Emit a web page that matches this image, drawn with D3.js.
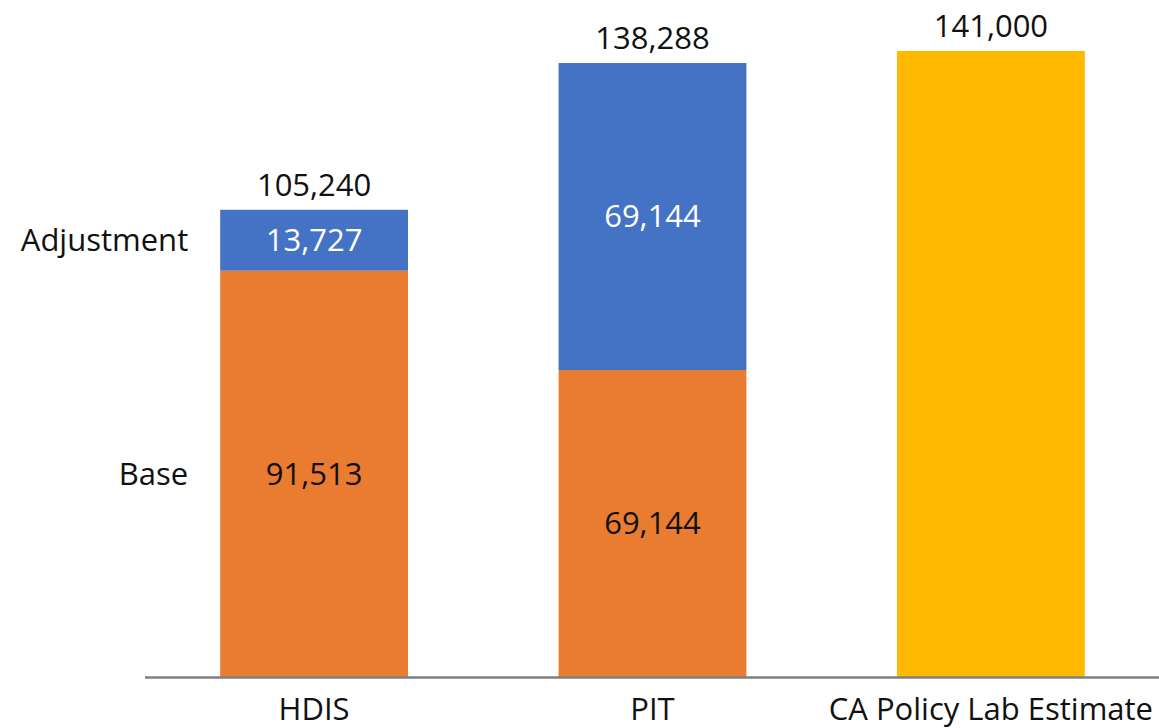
<!DOCTYPE html>
<html>
<head>
<meta charset="utf-8">
<script src="https://cdn.jsdelivr.net/npm/d3@7"></script>
<style>
  html, body { margin: 0; padding: 0; background: #fff; }
  svg text { font-family: "Open Sans", "Noto Sans", sans-serif; }
</style>
</head>
<body>
<svg id="chart" width="1159" height="728"></svg>
<script>
const categories = ["HDIS", "PIT", "CA Policy Lab Estimate"];
const baseValues = [91513, 69144, 0];
const adjustmentValues = [13727, 69144, 0];
const estimateValues = [0, 0, 141000];
const totalLabels = ["105,240", "138,288", "141,000"];
const seriesNames = ["Adjustment", "Base"];

const svg = d3.select("#chart");
const W = 1159, H = 728;

const x = d3.scaleBand().domain(categories).range([51, 1254]).paddingInner(0.445).paddingOuter(0.5);
const y = d3.scaleLinear().domain([0, 141000]).range([677, 51]);

const colors = { base: "#E97C30", adj: "#4472C4", est: "#FFBA00" };
const fmt = d3.format(",");

const rows = categories.map((c, i) => ({
  cat: c, base: baseValues[i], adj: adjustmentValues[i], est: estimateValues[i], total: totalLabels[i]
}));

// base segments
svg.append("g").selectAll("rect").data(rows.filter(d => d.base > 0)).join("rect")
  .attr("x", d => x(d.cat)).attr("width", x.bandwidth())
  .attr("y", d => y(d.base)).attr("height", d => y(0) - y(d.base))
  .attr("fill", colors.base);

// adjustment segments
svg.append("g").selectAll("rect").data(rows.filter(d => d.adj > 0)).join("rect")
  .attr("x", d => x(d.cat)).attr("width", x.bandwidth())
  .attr("y", d => y(d.base + d.adj)).attr("height", d => y(d.base) - y(d.base + d.adj))
  .attr("fill", colors.adj);

// estimate
svg.append("g").selectAll("rect").data(rows.filter(d => d.est > 0)).join("rect")
  .attr("x", d => x(d.cat)).attr("width", x.bandwidth())
  .attr("y", d => y(d.est)).attr("height", d => y(0) - y(d.est))
  .attr("fill", colors.est);

const fs = 31;
// inside labels
svg.append("g").selectAll("text").data(rows.filter(d => d.base > 0)).join("text")
  .attr("x", d => x(d.cat) + x.bandwidth() / 2)
  .attr("y", d => (y(0) + y(d.base)) / 2)
  .attr("dy", "0.35em").attr("text-anchor", "middle")
  .attr("font-size", fs).attr("fill", "#111")
  .text(d => fmt(d.base));

svg.append("g").selectAll("text").data(rows.filter(d => d.adj > 0)).join("text")
  .attr("x", d => x(d.cat) + x.bandwidth() / 2)
  .attr("y", d => (y(d.base) + y(d.base + d.adj)) / 2)
  .attr("dy", "0.35em").attr("text-anchor", "middle")
  .attr("font-size", fs).attr("fill", "#fff")
  .text(d => fmt(d.adj));

// total labels
svg.append("g").selectAll("text").data(rows).join("text")
  .attr("x", d => x(d.cat) + x.bandwidth() / 2)
  .attr("y", d => y(d.base + d.adj + d.est) - 14)
  .attr("text-anchor", "middle")
  .attr("font-size", fs).attr("fill", "#111")
  .text(d => d.total);

// series labels next to first bar
const first = rows[0];
const seriesY = [ (y(first.base) + y(first.base + first.adj)) / 2, (y(0) + y(first.base)) / 2 ];
svg.append("g").selectAll("text").data(seriesNames).join("text")
  .attr("x", x(first.cat) - 32)
  .attr("y", (d, i) => seriesY[i])
  .attr("dy", "0.35em").attr("text-anchor", "end")
  .attr("font-size", fs).attr("fill", "#111")
  .text(d => d);

// baseline
svg.append("line").attr("x1", 145).attr("x2", W).attr("y1", y(0) + 0.5).attr("y2", y(0) + 0.5)
  .attr("stroke", "#7f7f7f").attr("stroke-width", 2.5);

// category axis
const axis = svg.append("g").attr("transform", `translate(0,${y(0)})`)
  .call(d3.axisBottom(x).tickSize(0).tickPadding(21));
axis.select(".domain").remove();
axis.selectAll("text").attr("font-size", fs).attr("fill", "#111")
  .style("font-family", '"Open Sans", "Noto Sans", sans-serif');
</script>
</body>
</html>
